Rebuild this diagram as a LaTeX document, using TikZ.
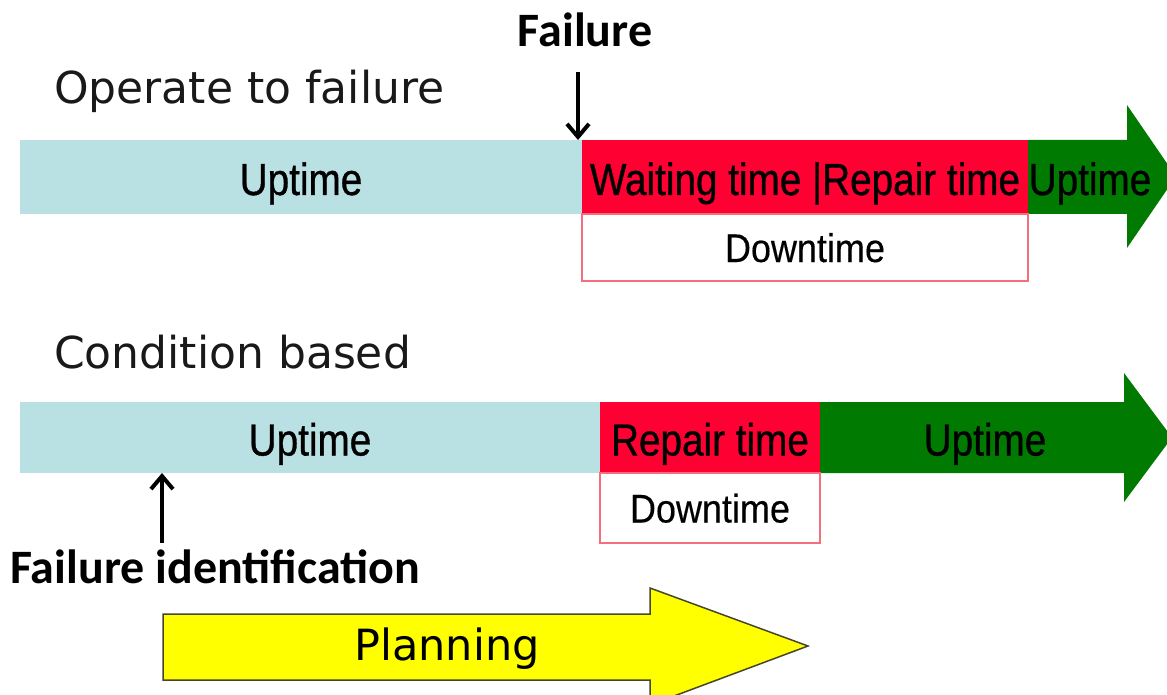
\documentclass[tikz,border=0pt]{standalone}
\usepackage{fontspec}
\setmainfont{DejaVu Sans}
\newfontfamily\labelfont{Carlito}
\newfontfamily\barfont[FakeStretch=0.86,FakeBold=0.8]{Liberation Sans}
\newfontfamily\boxfont[FakeStretch=0.9,FakeBold=0.3]{Liberation Sans}
\usetikzlibrary{arrows.meta}

\definecolor{upblue}{RGB}{185,224,227}
\definecolor{downred}{RGB}{255,0,51}
\definecolor{upgreen}{RGB}{0,122,0}
\definecolor{boxline}{RGB}{244,110,125}
\definecolor{planyellow}{RGB}{255,255,0}
\definecolor{planline}{RGB}{70,70,40}

\begin{document}
\begin{tikzpicture}[x=1pt,y=-1pt,
  seg/.style={anchor=north west, inner sep=0pt, outer sep=0pt,
    font=\barfont\fontsize{45}{45}\selectfont, text=black,
    text height=36pt, text depth=0pt},
  dbox/.style={anchor=north west, inner sep=0pt, outer sep=0pt,
    draw=boxline, line width=1.8pt, fill=white,
    font=\boxfont\fontsize{40}{40}\selectfont, text=black,
    text height=29pt, text depth=0pt},
  heading/.style={anchor=base west, inner sep=0pt,
    font=\fontsize{44}{44}\selectfont, text=black!90},
  event/.style={inner sep=0pt, font=\labelfont\bfseries\fontsize{48}{48}\selectfont},
  pointer/.style={line width=4pt, -{Straight Barb[length=13pt,width=22pt,line width=4pt]}},
  bartext/.style={inner sep=0pt, font=\barfont\fontsize{45}{45}\selectfont,
    text height=36pt, text depth=0pt}
]
\useasboundingbox (0,0) rectangle (1167,695);
\clip (0,0) rectangle (1167,695);

% ---- Operate to failure ----
\node[heading] (h1) at (54,104) {Operate to failure};
\node[seg, fill=upblue, minimum width=562pt, minimum height=74pt] (up1) at (20,140) {Uptime};
\node[seg, fill=downred, minimum width=446pt, minimum height=74pt] (rep1) at (582,140) {Waiting time |Repair time};
\fill[upgreen] (1028,140) -- (1127,140) -- (1127,105) -- (1176,176.5)
  -- (1127,248) -- (1127,214) -- (1028,214) -- cycle;
\node[bartext] (after1) at (1090,177) {Uptime};
\node[dbox, minimum width=446pt, minimum height=67pt] (dt1) at (582,214) {Downtime};

\node[event, anchor=base] (fail) at (585,47) {Failure};
\coordinate (failtop) at (578,72);
\draw[pointer] (failtop) -- (failtop |- rep1.north);

% ---- Condition based ----
\node[heading] (h2) at (54,368) {Condition based};
\node[seg, fill=upblue, minimum width=580pt, minimum height=71pt] (up2) at (20,402) {Uptime};
\node[seg, fill=downred, minimum width=220pt, minimum height=71pt] (rep2) at (600,402) {Repair time};
\fill[upgreen] (820,402) -- (1124,402) -- (1124,373) -- (1172,437.5)
  -- (1124,502) -- (1124,473) -- (820,473) -- cycle;
\node[bartext] (after2) at (985,437.5) {Uptime};
\node[dbox, minimum width=220pt, minimum height=70pt] (dt2) at (600,473) {Downtime};

\coordinate (fidbase) at (162,543);
\draw[pointer] (fidbase) -- (fidbase |- up2.south);
\node[event, anchor=base west] (fid) at (10,583) {Failure identification};

% ---- Planning ----
\draw[planline, line width=1.5pt, fill=planyellow, line join=miter]
  (163,614) -- (650,614) -- (650,588) -- (808,646) -- (650,705)
  -- (650,680) -- (163,680) -- cycle;
\node[inner sep=0pt, font=\fontsize{43}{43}\selectfont] (plan) at (447,649) {Planning};
\end{tikzpicture}
\end{document}
